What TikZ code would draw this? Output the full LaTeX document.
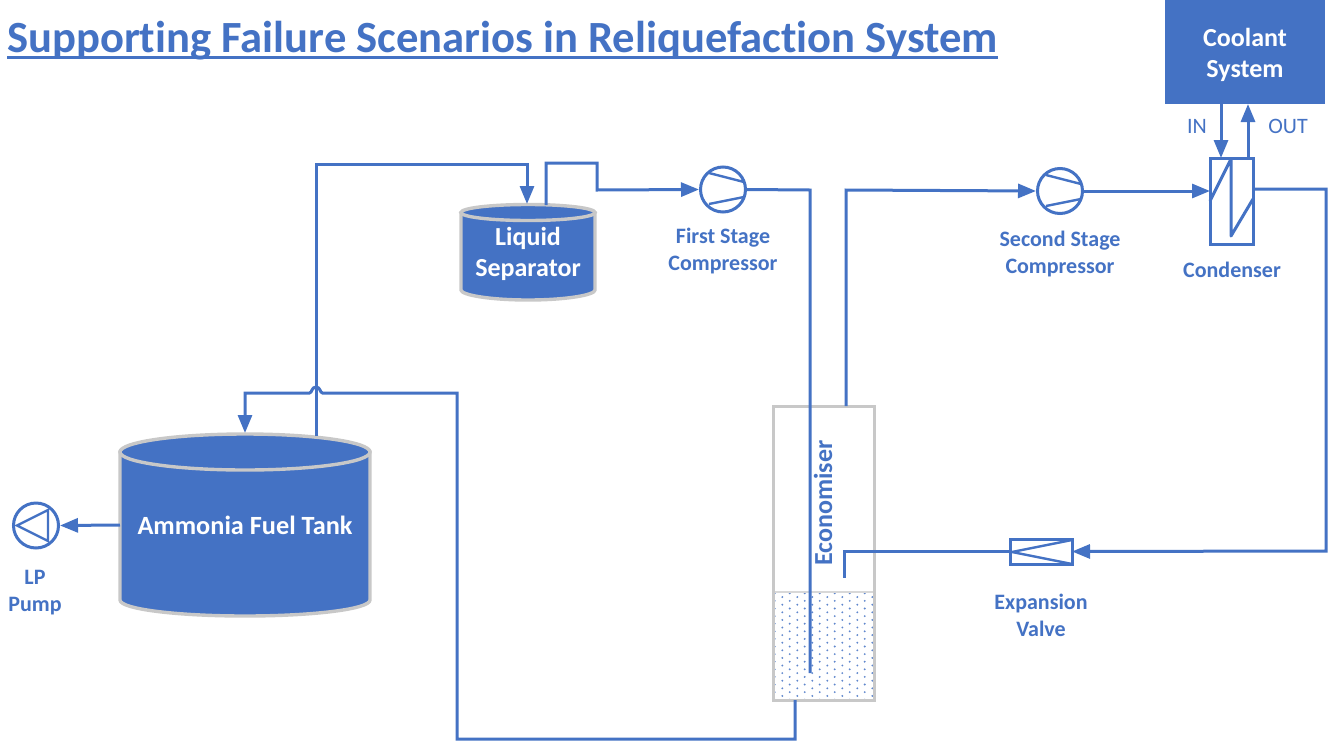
\documentclass[tikz,border=0pt]{standalone}
\usepackage{fontspec}
\setmainfont{Carlito}[Ligatures=NoCommon]
\usetikzlibrary{arrows.meta,calc}
\definecolor{bl}{HTML}{4472C4}
\definecolor{gy}{HTML}{C8C8C8}
\tikzset{
  pipe/.style={draw=bl,line width=3pt,line join=miter},
  flow/.style={pipe,-{Triangle[length=18pt,width=14pt]}},
  sym/.style={draw=bl,line width=3pt,fill=white},
  box/.style={rectangle,inner sep=0pt,outer sep=0pt,minimum width=#1},
  tall/.style={minimum height=#1},
  lab/.style={text=bl,font=\fontsize{22}{27}\selectfont\bfseries,align=center,inner sep=0pt},
  wlab/.style={text=white,font=\fontsize{#1}{31}\selectfont\bfseries,align=center,inner sep=0pt},
  shell/.style={draw=gy,line width=3.4pt,fill=bl}
}
\begin{document}
\begin{tikzpicture}[x=1pt,y=-1pt]
\useasboundingbox (0,0) rectangle (1328,742);
\fill[white] (0,0) rectangle (1328,742);
% title
\node[anchor=base west,inner sep=0pt,text=bl,font=\fontsize{44.6}{44}\selectfont\bfseries] (title) at (7,52) {Supporting Failure Scenarios in Reliquefaction System};
\draw[bl,line width=3.4pt] (7,57.3) -- (998,57.3);
% coolant
\node[box=160pt,tall=104pt,fill=bl] (cool) at (1245,52) {};
\node[wlab=26] (cooltxt) at (1245,54.5) {Coolant\\System};
\node[text=bl,font=\fontsize{22}{24}\selectfont,inner sep=0pt] (intxt) at (1197,126) {IN};
\node[text=bl,font=\fontsize{22}{24}\selectfont,inner sep=0pt] (outtxt) at (1288,126) {OUT};
% condenser
\node[box=43pt,tall=86pt,sym,fill=none] (cond) at (1231.5,201) {};
\draw[pipe,line join=round] (1210,201) -- (1231,159) -- (1231,236) -- (1253,199);
\node[lab] (condl) at (1232,270) {Condenser};
% compressors
\node[circle,sym,inner sep=0pt,minimum size=45pt,fill=none] (c1) at (723,189.5) {};
\draw[bl,line width=2.4pt] (709,173) -- (744,182) (709,204) -- (744,197);
\node[lab] (c1l) at (723,251.5) {First Stage\\Compressor};
\node[circle,sym,inner sep=0pt,minimum size=45pt,fill=none] (c2) at (1060,191) {};
\draw[bl,line width=2.4pt] (1046,175) -- (1081,184) (1046,206) -- (1081,199);
\node[lab] (c2l) at (1060,254.5) {Second Stage\\Compressor};
% valve
\node[box=62pt,tall=25pt,sym,fill=none] (valve) at (1041,551.5) {};
\draw[bl,line width=2.4pt] (1072,540) -- (1012,552) -- (1072,564);
\node[lab] (valvel) at (1041,615.5) {Expansion\\Valve};
% pump
\node[circle,sym,inner sep=0pt,minimum size=45pt,fill=none] (lp) at (36,525.5) {};
\draw[bl,line width=2.4pt,line join=miter] (48,510) -- (17,525.5) -- (48,541) -- cycle;
\node[lab] (lpl) at (35,593) {LP\\Pump};
% economiser
\fill[white] (773,406) rectangle (874,700);
\begin{scope}
\clip (773,592) rectangle (874,700);
\foreach \r in {0,...,28}{
  \pgfmathsetmacro{\yy}{593.3+3.8*\r}
  \pgfmathsetmacro{\off}{mod(\r,2)*7.6}
  \foreach \c in {0,...,6}{
    \fill[bl!85] ({774.7+\off+15*\c},\yy) circle (1.05pt);
  }
}
\end{scope}
\draw[gy!70,line width=1.2pt] (773,592) -- (874,592);
\node[box=101pt,tall=294pt,draw=gy,line width=3pt] (econ) at (823.5,553) {};
\node[text=bl,rotate=90,font=\fontsize{26}{26}\selectfont\bfseries,inner sep=0pt] (econl) at (823,503) {Economiser};
% tank
\path[shell] (120,452) -- (120,600) .. controls (120,609) and (176,616) .. (245,616) .. controls (314,616) and (370,609) .. (370,600) -- (370,452) -- cycle;
\draw[shell] (245,452) ellipse [x radius=125,y radius=18];
\node[box=250pt,tall=182pt,wlab=26.3] (tank) at (245,525) {Ammonia Fuel Tank};
% separator
\path[shell] (461,213) -- (461,290) .. controls (461,295) and (490,300) .. (528,300) .. controls (566,300) and (595,295) .. (595,290) -- (595,213) -- cycle;
\draw[shell] (528,212.5) ellipse [x radius=67,y radius=8];
\node[box=134pt,tall=95pt,wlab=26] (sep) at (528,253.5) {Liquid\\Separator};
% ports
\coordinate (tankin) at (245,433);
\coordinate (tankout) at (316,436);
\coordinate (sepin) at (527,204);
\coordinate (sepout) at (546,205);
\coordinate (econtop) at (846,406);
\coordinate (econbot) at (795,700);
\coordinate (econdip) at (810,673);
\coordinate (econret) at (844,578);
\coordinate (condinA) at (1221,158);
\coordinate (condoutA) at (1248,158);
% connectors
\draw[flow] (tankout) -- (316,164) -- (527,164) -- (sepin);
\draw[flow] (sepout) -- (546,163) -- (597,163) -- (597,190) -- (c1.west);
\draw[pipe] (c1.east) -- (810,190) -- (econdip);
\draw[flow] (econtop) -- (846,190) -- (c2.west);
\draw[flow] (c2.east) -- (cond.west |- c2.east);
\draw[flow] (cond.east |- 0,189) -- (1326,189) -- (1326,551) -- (valve.east);
\draw[pipe] (valve.west) -- (844,551.5) -- (econret);
\draw[flow] (cool.south -| condinA) -- (condinA);
\draw[flow] (condoutA) -- (cool.south -| condoutA);
\draw[flow] (tank.west) -- (lp.east);
\draw[flow] (econbot) -- (795,739) -- (457,739) -- (457,393) -- (322.5,393) .. controls (320,393) and (320.5,387) .. (316,387) .. controls (311.5,387) and (312,393) .. (309.5,393) -- (245,393) -- (tankin);
\end{tikzpicture}
\end{document}
